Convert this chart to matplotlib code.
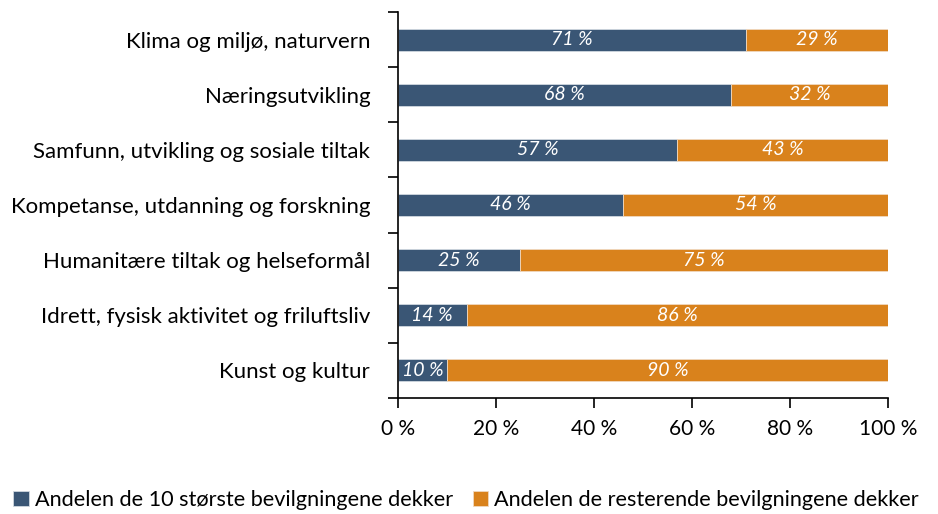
import matplotlib
matplotlib.use("Agg")
import matplotlib.pyplot as plt
import numpy as np

# Data (top to bottom as displayed)
categories = [
    "Klima og miljø, naturvern",
    "Næringsutvikling",
    "Samfunn, utvikling og sosiale tiltak",
    "Kompetanse, utdanning og forskning",
    "Humanitære tiltak og helseformål",
    "Idrett, fysisk aktivitet og friluftsliv",
    "Kunst og kultur",
]
top10 = [71, 68, 57, 46, 25, 14, 10]
rest = [29, 32, 43, 54, 75, 86, 90]
series_names = [
    "Andelen de 10 største bevilgningene dekker",
    "Andelen de resterende bevilgningene dekker",
]

BLUE = "#3A5675"
ORANGE = "#D9821C"

plt.rcParams["font.family"] = ["Lato", "DejaVu Sans"]

fig = plt.figure(figsize=(9.38, 5.14), dpi=100)
ax = fig.add_axes([0.4243, 0.2257, 0.5224, 0.7510])

n = len(categories)
y = np.arange(n)[::-1]
h = 0.4
b1 = ax.barh(y, top10, height=h, color=BLUE, edgecolor="#D0D8E0", linewidth=0.6,
             label=series_names[0])
b2 = ax.barh(y, rest, left=top10, height=h, color=ORANGE, edgecolor="#F0D8C0",
             linewidth=0.6, label=series_names[1])

# white italic value labels centred in each segment
for yi, a, r in zip(y, top10, rest):
    ax.text(a / 2, yi, f"{a} %", ha="center", va="center", color="white",
            fontsize=14, style="italic")
    ax.text(a + r / 2, yi, f"{r} %", ha="center", va="center", color="white",
            fontsize=14, style="italic")

ax.set_xlim(0, 100)
ax.set_ylim(-0.5, n - 0.5)
ax.set_xticks(np.arange(0, 101, 20))
ax.set_xticklabels([f"{v} %" for v in range(0, 101, 20)], fontsize=15)
ax.set_yticks(y)
ax.set_yticklabels(categories, fontsize=16)
ax.tick_params(axis="y", length=0, pad=20)
ax.set_yticks(np.arange(-0.5, n, 1.0), minor=True)
ax.tick_params(axis="y", which="minor", length=7, width=1.2, direction="out")
ax.tick_params(axis="x", length=7, width=1.2, direction="out", pad=8)

for s in ["top", "right"]:
    ax.spines[s].set_visible(False)
for s in ["left", "bottom"]:
    ax.spines[s].set_linewidth(1.2)
    ax.spines[s].set_color("black")

fig.legend(handles=[b1, b2], labels=series_names, loc="lower left",
           bbox_to_anchor=(0.005, -0.01), ncol=2, frameon=False, fontsize=15.6,
           handlelength=0.7, handleheight=0.7, handletextpad=0.3,
           columnspacing=0.9, borderaxespad=0.0)

fig.savefig("out.png", dpi=100)
